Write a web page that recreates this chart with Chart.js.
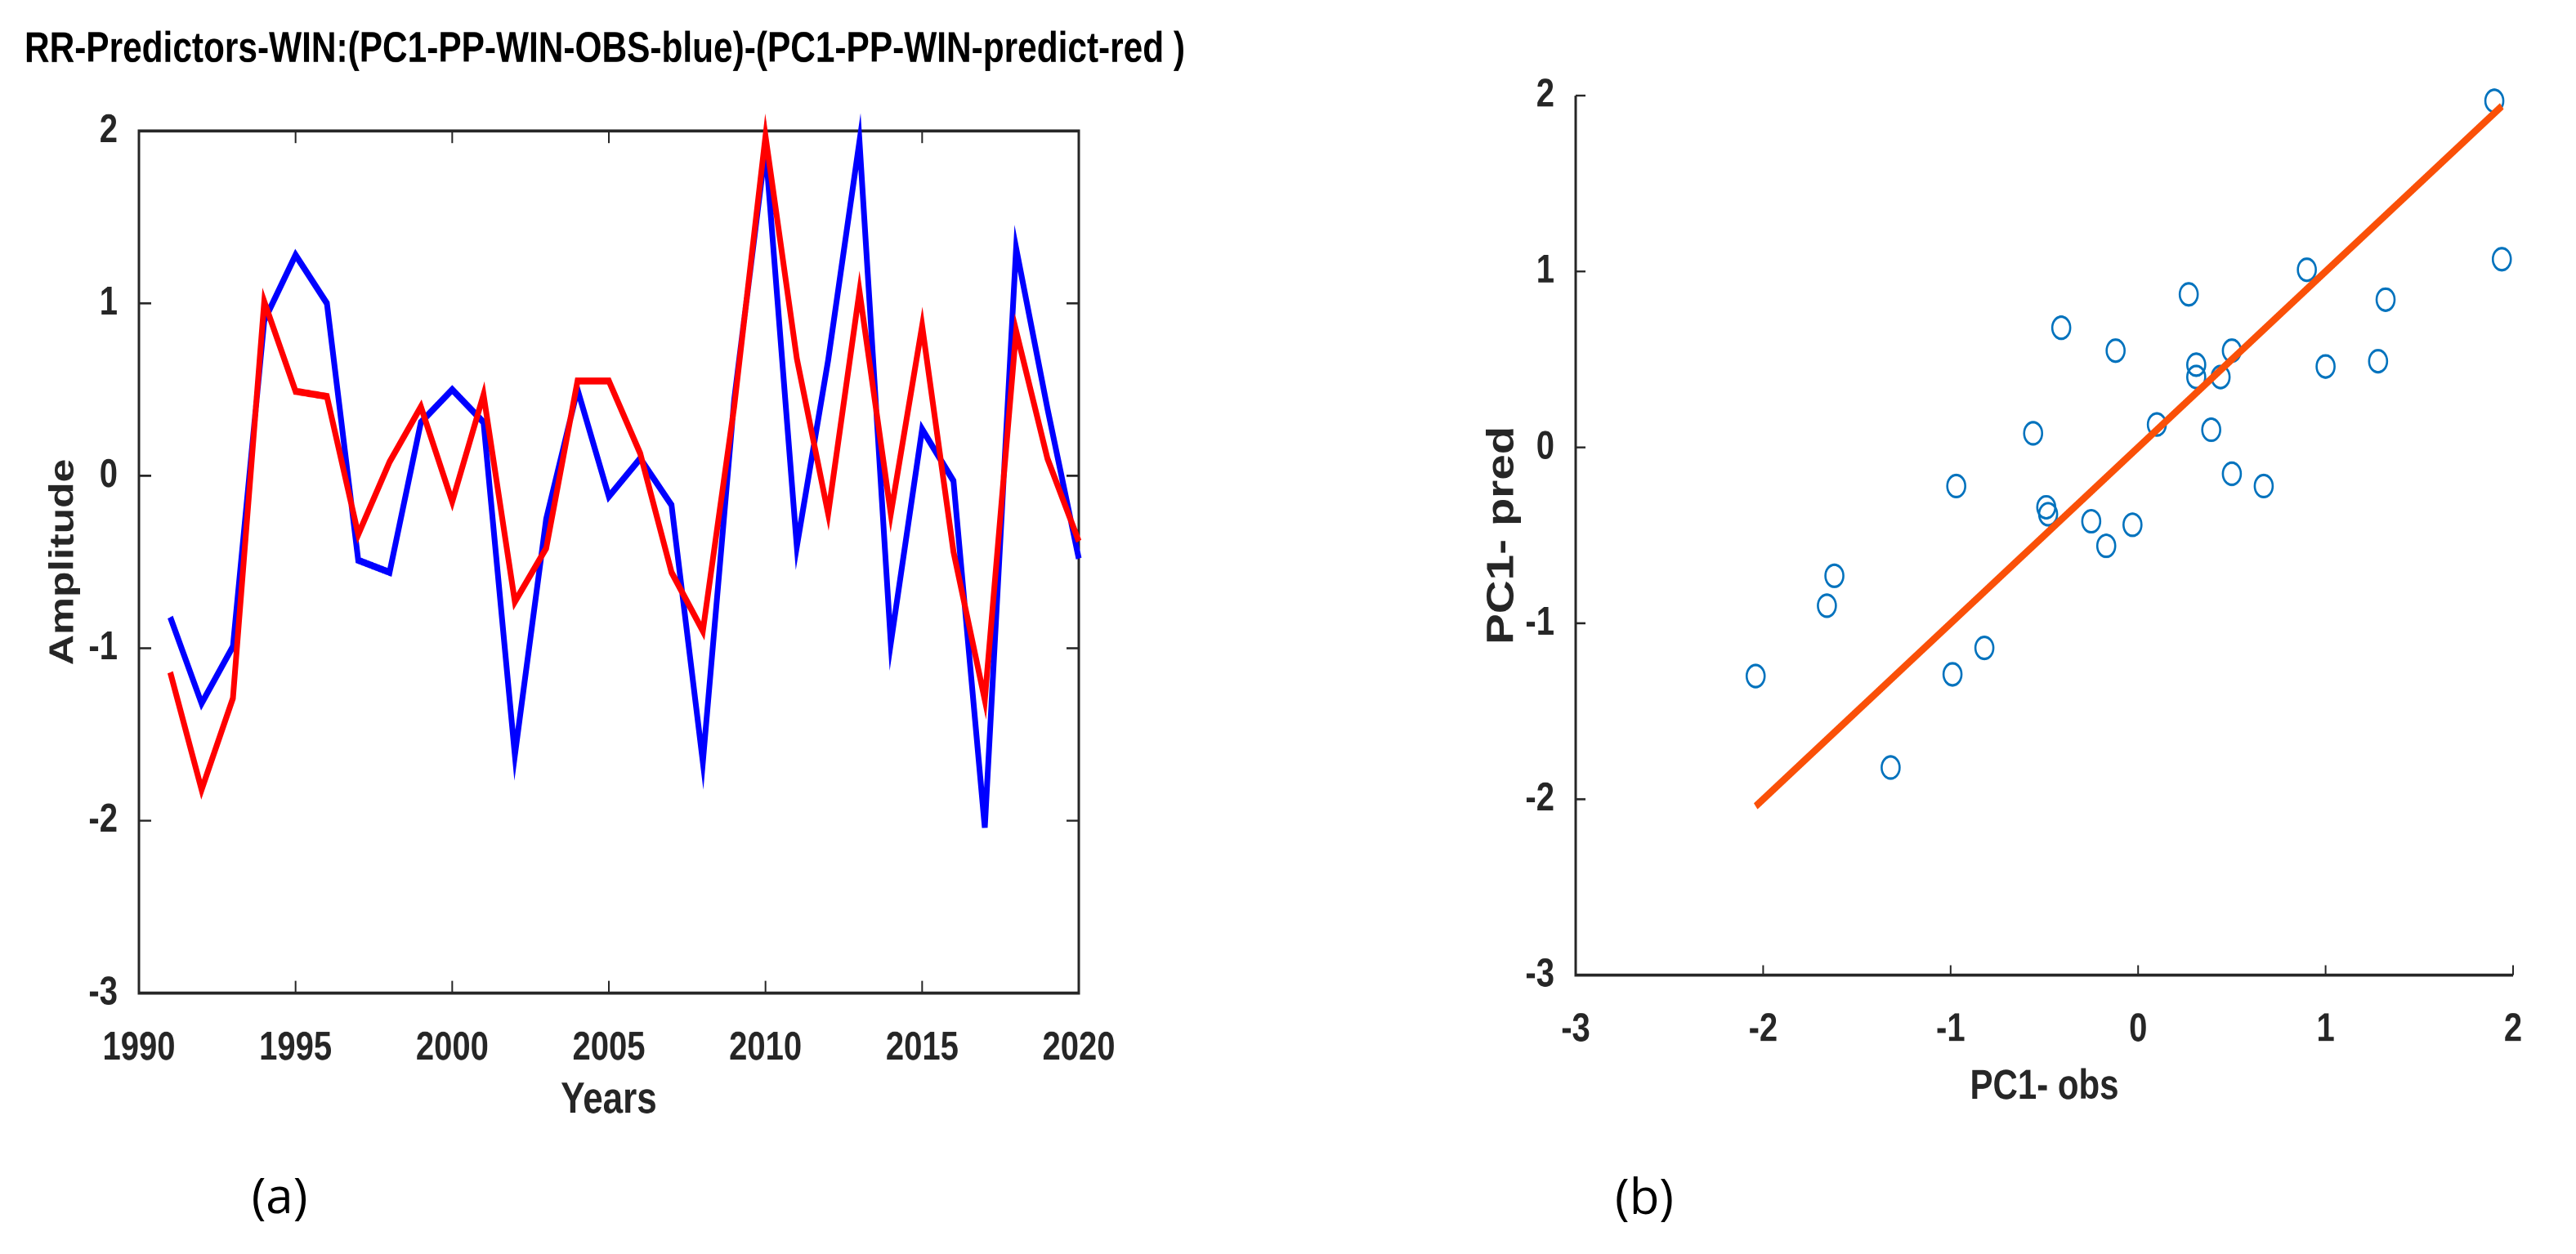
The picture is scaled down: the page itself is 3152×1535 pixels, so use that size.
<!DOCTYPE html>
<html>
<head>
<meta charset="utf-8">
<script src="https://cdn.jsdelivr.net/npm/chart.js@4.4.1/dist/chart.umd.min.js"></script>
<style>
  body { margin: 0; background: #fff; width: 3152px; height: 1535px; position: relative; overflow: hidden; }
  /* the original figure is stretched vertically, so are the canvases */
  canvas { position: absolute; transform: scaleY(1.23); transform-origin: 0 0; }
  #chart-a { left: 0; top: 0; }
  #chart-b { left: 1760px; top: 0; }
  .panel { position: absolute; font-family: 'Open Sans', sans-serif; font-size: 60px; line-height: 1; color: #000; transform: translate(-50%, -50%); }
</style>
</head>
<body>
<canvas id="chart-a" width="1480" height="1122"></canvas>
<canvas id="chart-b" width="1355" height="1107"></canvas>
<div class="panel" style="left:342px;top:1462px">(a)</div>
<div class="panel" style="left:2012px;top:1463px">(b)</div>
<script>
// years of the series
const years = [1991, 1992, 1993, 1994, 1995, 1996, 1997, 1998, 1999, 2000,
    2001, 2002, 2003, 2004, 2005, 2006, 2007, 2008, 2009, 2010,
    2011, 2012, 2013, 2014, 2015, 2016, 2017, 2018, 2019, 2020]
// PC1 observed (blue)
const pcObs = [-0.82, -1.32, -0.99, 0.90, 1.28, 1.00, -0.49, -0.56, 0.31, 0.50,
    0.31, -1.62, -0.25, 0.50, -0.12, 0.10, -0.17, -1.66, 0.44, 1.90,
    -0.41, 0.67, 1.94, -0.97, 0.27, -0.03, -2.04, 1.32, 0.39, -0.48]
// PC1 predicted (red)
const pcPred = [-1.14, -1.82, -1.29, 1.01, 0.49, 0.46, -0.34, 0.08, 0.40, -0.15,
    0.47, -0.73, -0.42, 0.55, 0.55, 0.13, -0.56, -0.90, 0.40, 1.97,
    0.68, -0.22, 1.07, -0.22, 0.87, -0.44, -1.30, 0.84, 0.10, -0.38]

const STRETCH = 1.23;
const font = "'Liberation Sans', Arial, sans-serif";
const axisColor = '#262626';
Chart.defaults.color = axisColor;
Chart.defaults.font.family = font;

// matlab style axes: inward ticks, optional box
const matlabAxes = {
    id: 'matlabAxes',
    beforeDatasetsDraw(chart, args, opts) {
        const { ctx, chartArea: a, scales } = chart;
        const lenY = opts.tickLen, lenX = opts.tickLen / STRETCH;
        ctx.save();
        ctx.strokeStyle = axisColor;
        ctx.lineWidth = 2;
        ctx.beginPath();
        scales.x.ticks.forEach(t => {
            const px = scales.x.getPixelForValue(t.value);
            ctx.moveTo(px, a.bottom); ctx.lineTo(px, a.bottom - lenX);
            if (opts.box) { ctx.moveTo(px, a.top); ctx.lineTo(px, a.top + lenX); }
        });
        scales.y.ticks.forEach(t => {
            const py = scales.y.getPixelForValue(t.value);
            ctx.moveTo(a.left, py); ctx.lineTo(a.left + lenY, py);
            if (opts.box) { ctx.moveTo(a.right, py); ctx.lineTo(a.right - lenY, py); }
        });
        ctx.stroke();
        ctx.lineWidth = 3;
        if (opts.box) {
            ctx.strokeRect(a.left, a.top, a.width, a.height);
        } else {
            ctx.beginPath();
            ctx.moveTo(a.left, a.top);
            ctx.lineTo(a.left, a.bottom);
            ctx.lineTo(a.right, a.bottom);
            ctx.stroke();
        }
        ctx.restore();
    }
};

const tickFont = { size: 40, weight: 'bold' };

const ctxA = document.getElementById('chart-a').getContext('2d');
new Chart(ctxA, {
    type: 'line',
    data: {
        datasets: [{
            label: 'PC1-PP-WIN-predict',
            data: years.map((y, i) => ({ x: y, y: pcPred[i] })),
            borderColor: '#FF0000',
            borderWidth: 7,
            pointRadius: 0,
            tension: 0,
            clip: false,
            order: 0
        }, {
            label: 'PC1-PP-WIN-OBS',
            data: years.map((y, i) => ({ x: y, y: pcObs[i] })),
            borderColor: '#0000FF',
            borderWidth: 7,
            pointRadius: 0,
            tension: 0,
            clip: false,
            order: 1
        }]
    },
    options: {
        responsive: false,
        animation: false,
        devicePixelRatio: 2,
        layout: { padding: 0 },
        plugins: {
            legend: { display: false },
            tooltip: { enabled: false },
            title: {
                display: true,
                text: 'RR-Predictors-WIN:(PC1-PP-WIN-OBS-blue)-(PC1-PP-WIN-predict-red )',
                color: '#000',
                font: { size: 42.4, weight: 'bold', lineHeight: 1.2 },
                padding: { top: 24.6, bottom: 54.8 }
            },
            matlabAxes: { box: true, tickLen: 15 }
        },
        scales: {
            x: {
                type: 'linear',
                min: 1990, max: 2020,
                grid: { display: false },
                border: { display: false },
                ticks: { stepSize: 5, padding: 23.1, font: tickFont, maxRotation: 0, callback: v => String(v) },
                title: { display: true, text: 'Years', font: { size: 44, weight: 'bold' }, padding: 0 },
                afterFit: s => { s.height = 133.7; }
            },
            y: {
                min: -3, max: 2,
                grid: { display: false },
                border: { display: false },
                ticks: { stepSize: 1, padding: 18, font: tickFont },
                title: { display: true, text: 'Amplitude', font: { size: 42, weight: 'bold' }, padding: { top: 52.8 } },
                afterFit: s => { s.width = 170; }
            },
            y2: {
                position: 'right',
                min: -3, max: 2,
                grid: { display: false },
                border: { display: false },
                ticks: { display: false },
                afterFit: s => { s.width = 160; }
            }
        }
    },
    plugins: [matlabAxes]
});

const ctxB = document.getElementById('chart-b').getContext('2d');
const lo = Math.min(...pcObs), hi = Math.max(...pcObs);
new Chart(ctxB, {
    type: 'scatter',
    data: {
        datasets: [{
            label: 'fit',
            data: [{ x: lo, y: lo }, { x: hi, y: hi }],
            showLine: true,
            borderColor: '#FA5008',
            borderWidth: 7.5,
            pointRadius: 0,
            clip: false,
            order: 0
        }, {
            label: 'PC1',
            data: pcObs.map((v, i) => ({ x: v, y: pcPred[i] })),
            pointStyle: 'circle',
            pointRadius: 11,
            borderWidth: 2.6,
            borderColor: '#0072BD',
            backgroundColor: 'rgba(0,0,0,0)',
            clip: false,
            order: 1
        }]
    },
    options: {
        responsive: false,
        animation: false,
        devicePixelRatio: 2,
        layout: { padding: { top: 95.1, right: 40, left: 0, bottom: 0 } },
        plugins: {
            legend: { display: false },
            tooltip: { enabled: false },
            matlabAxes: { box: false, tickLen: 12 }
        },
        scales: {
            x: {
                min: -3, max: 2,
                grid: { display: false },
                border: { display: false },
                ticks: { stepSize: 1, padding: 22.7, font: tickFont, maxRotation: 0 },
                title: { display: true, text: 'PC1- obs', font: { size: 42, weight: 'bold' }, padding: 0 },
                afterFit: s => { s.height = 136.6; }
            },
            y: {
                min: -3, max: 2,
                grid: { display: false },
                border: { display: false },
                ticks: { stepSize: 1, padding: 18, font: tickFont },
                title: { display: true, text: 'PC1- pred', font: { size: 46, weight: 'bold' }, padding: { top: 51 } },
                afterFit: s => { s.width = 168; }
            }
        }
    },
    plugins: [matlabAxes]
});
</script>
</body>
</html>
